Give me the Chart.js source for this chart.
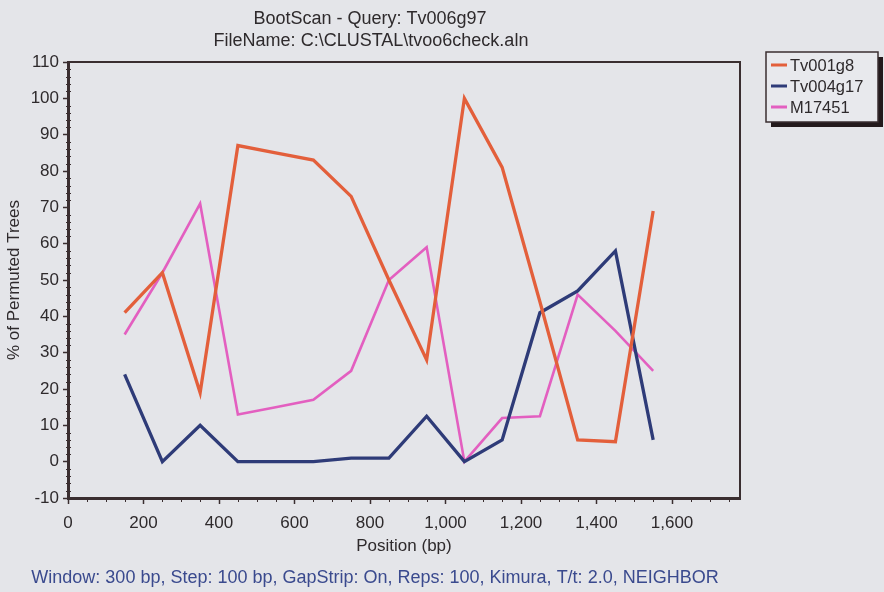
<!DOCTYPE html>
<html>
<head>
<meta charset="utf-8">
<script src="https://cdn.jsdelivr.net/npm/chart.js@4/dist/chart.umd.min.js"></script>
<style>
  html, body { margin: 0; padding: 0; background: #e4e5e9; }
  #wrap { width: 884px; height: 592px; }
</style>
</head>
<body>
<div id="wrap"><canvas id="boot" width="884" height="592"></canvas></div>
<script>
// Window mid-points along the alignment (bp)
const positions = [150, 250, 350, 450, 550, 650, 750, 850, 950, 1050, 1150, 1250, 1350, 1450, 1550];

// Bootstrap support (% of permuted trees) for each reference sequence
const tv001g8  = [41, 52, 19, 87, 85, 83, 73, 50, 28, 100, 81, 44, 6, 5.5, 69];
const tv004g17 = [24, 0, 10, 0, 0, 0, 1, 1, 12.5, 0, 6, 41, 47, 58, 6];
const m17451   = [35, 52, 71, 13, 15, 17, 25, 50, 59, 0, 12, 12.5, 46, 36, 25];

// Labelled tick values on each axis
const xTickValues = [0, 200, 400, 600, 800, 1000, 1200, 1400, 1600];
const yTickValues = [-10, 0, 10, 20, 30, 40, 50, 60, 70, 80, 90, 100, 110];

const seriesNames  = ['Tv001g8', 'Tv004g17', 'M17451'];
const seriesColors = ['#e35f3b', '#2e3b78', '#e35fc0'];
const seriesWidths = [3.3, 3.3, 2.6];

const titleLines = ['BootScan - Query: Tv006g97', 'FileName: C:\\CLUSTAL\\tvoo6check.aln'];
const footerText = 'Window: 300 bp, Step: 100 bp, GapStrip: On, Reps: 100, Kimura, T/t: 2.0, NEIGHBOR';

const FONT = '"Liberation Sans", Arial, sans-serif';
const INK = '#2e2a2c';
const AXIS = '#3a2e30';

const toPoints = vals => positions.map((p, i) => ({ x: p, y: vals[i] }));
const datasets = [tv001g8, tv004g17, m17451].map((vals, i) => ({
  label: seriesNames[i],
  data: toPoints(vals),
  borderColor: seriesColors[i],
  backgroundColor: seriesColors[i],
  borderWidth: seriesWidths[i],
  pointRadius: 0,
  tension: 0,
  borderJoinStyle: 'miter'
}));

// Extra drawing: background, plot frame, minor ticks, titles, footer and a shadowed legend
const decorations = {
  id: 'decorations',
  beforeDraw(chart) {
    const ctx = chart.ctx;
    ctx.save();
    ctx.fillStyle = '#e4e5e9';
    ctx.fillRect(0, 0, chart.width, chart.height);
    ctx.restore();
  },
  afterDraw(chart) {
    const { ctx, chartArea: a, scales: { x, y } } = chart;
    ctx.save();

    // top and right edges of the plot frame
    ctx.strokeStyle = AXIS;
    ctx.lineWidth = 2;
    ctx.beginPath();
    ctx.moveTo(a.left, a.top);
    ctx.lineTo(a.right, a.top);
    ctx.lineTo(a.right, a.bottom);
    ctx.stroke();

    // minor ticks
    ctx.lineWidth = 1;
    ctx.beginPath();
    for (let v = 50; v <= 1750; v += 50) {
      if (v % 200 === 0) continue;
      const px = Math.round(x.getPixelForValue(v)) + 0.5;
      ctx.moveTo(px, a.bottom);
      ctx.lineTo(px, a.bottom + 4);
    }
    for (let v = -8; v <= 108; v += 2) {
      if (v % 10 === 0) continue;
      const py = Math.round(y.getPixelForValue(v)) + 0.5;
      ctx.moveTo(a.left - 2, py);
      ctx.lineTo(a.left + 3, py);
    }
    ctx.stroke();

    // titles
    ctx.fillStyle = INK;
    ctx.textAlign = 'center';
    ctx.textBaseline = 'middle';
    ctx.font = '18px ' + FONT;
    ctx.fillText(titleLines[0], 370, 19);
    ctx.fillText(titleLines[1], 371, 41);

    // footer
    ctx.fillStyle = '#3a4a8e';
    ctx.font = '18px ' + FONT;
    ctx.fillText(footerText, 375, 578);

    // legend with drop shadow
    const lx = 766, ly = 52, lw = 112, lh = 70;
    ctx.fillStyle = '#231a1c';
    ctx.fillRect(lx + 5, ly + 5, lw, lh);
    ctx.fillStyle = '#e8e9ed';
    ctx.fillRect(lx, ly, lw, lh);
    ctx.strokeStyle = AXIS;
    ctx.lineWidth = 1.5;
    ctx.strokeRect(lx, ly, lw, lh);
    ctx.font = '16.5px ' + FONT;
    ctx.textAlign = 'left';
    chart.data.datasets.forEach((ds, i) => {
      const ry = ly + 13 + i * 21;
      ctx.strokeStyle = ds.borderColor;
      ctx.lineWidth = 3;
      ctx.beginPath();
      ctx.moveTo(lx + 5, ry);
      ctx.lineTo(lx + 21, ry);
      ctx.stroke();
      ctx.fillStyle = INK;
      ctx.fillText(ds.label, lx + 24, ry + 1);
    });
    ctx.restore();
  }
};

const tickFont = { family: FONT, size: 17 };

new Chart(document.getElementById('boot'), {
  type: 'line',
  data: { datasets },
  plugins: [decorations],
  options: {
    responsive: false,
    animation: false,
    layout: { padding: { top: 62, right: 144, bottom: 34, left: 0 } },
    plugins: { legend: { display: false }, title: { display: false }, tooltip: { enabled: false } },
    scales: {
      x: {
        type: 'linear',
        min: 0,
        max: 1780,
        afterFit: s => { s.height = 60; },
        afterBuildTicks: s => { s.ticks = xTickValues.map(v => ({ value: v })); },
        ticks: {
          color: INK,
          font: tickFont,
          padding: 9,
          maxRotation: 0,
          autoSkip: false,
          callback: v => v.toLocaleString('en-US')
        },
        grid: { drawOnChartArea: false, drawTicks: true, tickLength: 6, tickColor: AXIS, tickWidth: 1.5 },
        border: { display: true, color: AXIS, width: 3 },
        title: { display: true, text: 'Position (bp)', color: INK, font: { family: FONT, size: 17 }, padding: { top: 0, bottom: 1 } }
      },
      y: {
        type: 'linear',
        min: -10,
        max: 110,
        afterFit: s => { s.width = 68; },
        afterBuildTicks: s => { s.ticks = yTickValues.map(v => ({ value: v })); },
        ticks: { color: INK, font: tickFont, padding: 4, autoSkip: false },
        grid: { drawOnChartArea: false, drawTicks: true, tickLength: 5, tickColor: AXIS, tickWidth: 1.5 },
        border: { display: true, color: AXIS, width: 3 },
        title: { display: true, text: '% of Permuted Trees', color: INK, font: { family: FONT, size: 17 }, padding: { top: 4, bottom: 0 } }
      }
    }
  }
});
</script>
</body>
</html>
